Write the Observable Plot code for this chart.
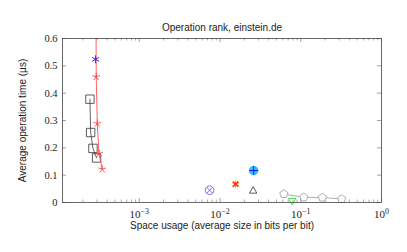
<!DOCTYPE html>
<html>
<head>
<meta charset="utf-8">
<script src="https://cdn.jsdelivr.net/npm/d3@7"></script>
<script src="https://cdn.jsdelivr.net/npm/@observablehq/plot@0.6"></script>
<style>
  html, body { margin: 0; padding: 0; background: #fff; }
  #chart svg { display: block; }
</style>
</head>
<body>
<div id="chart"></div>
<script>
// ---- data ----
const titleText = "Operation rank, einstein.de";
const xLabel = "Space usage (average size in bits per bit)";
const yLabel = "Average operation time (\u00B5s)";

const xMajorTicks = [1e-3, 1e-2, 1e-1, 1];
const xMajorLabels = ["\u22123", "\u22122", "\u22121", "0"];
const yTicks = [0, 0.1, 0.2, 0.3, 0.4, 0.5, 0.6];

// red star series (line)
const redX = [2.90e-4, 2.93e-4, 3.02e-4, 3.17e-4, 3.48e-4];
const redY = [0.80, 0.46, 0.289, 0.179, 0.122];
// blue asterisk
const blueAstX = [2.88e-4];
const blueAstY = [0.524];
// black squares (line)
const sqX = [2.45e-4, 2.50e-4, 2.67e-4, 2.96e-4];
const sqY = [0.378, 0.256, 0.198, 0.163];
// blue otimes
const otX = [7.43e-3];
const otY = [0.045];
// orange/red cluster
const orX = [0.0156];
const orY = [0.067];
// cyan oplus
const opX = [0.0261];
const opY = [0.117];
// black triangle
const triX = [0.0257];
const triY = [0.042];
// gray pentagons (line)
const pentX = [0.0617, 0.109, 0.185, 0.321];
const pentY = [0.031, 0.019, 0.018, 0.013];
// green down triangle
const greenX = [0.0784];
const greenY = [0.007];

// ---- helpers ----
const zip = (xs, ys) => xs.map((x, i) => ({x, y: ys[i]}));
const minorTicks = [];
for (const p of [1e-4, 1e-3, 1e-2, 1e-1]) for (let k = 2; k <= 9; k++) minorTicks.push(k * p);

const R = (size) => Math.sqrt(size / Math.PI);
const symStar5 = {draw(c, size) { const r = R(size); for (let i = 0; i < 5; i++) { const a = -Math.PI / 2 + i * 2 * Math.PI / 5; c.moveTo(0, 0); c.lineTo(r * Math.cos(a), r * Math.sin(a)); } }};
const symAst6 = {draw(c, size) { const r = R(size); for (let i = 0; i < 3; i++) { const a = Math.PI / 2 + i * Math.PI / 3; c.moveTo(-r * Math.cos(a), -r * Math.sin(a)); c.lineTo(r * Math.cos(a), r * Math.sin(a)); } }};
const symSquare = {draw(c, size) { const r = R(size); c.rect(-r, -r, 2 * r, 2 * r); }};
const symCircle = {draw(c, size) { const r = R(size); c.moveTo(r, 0); c.arc(0, 0, r, 0, 2 * Math.PI); c.closePath(); }};
const symTimes = {draw(c, size) { const r = R(size) * 0.707; c.moveTo(-r, -r); c.lineTo(r, r); c.moveTo(-r, r); c.lineTo(r, -r); }};
const symPlus = {draw(c, size) { const r = R(size); c.moveTo(-r, 0); c.lineTo(r, 0); c.moveTo(0, -r); c.lineTo(0, r); }};
const symTriUp = {draw(c, size) { const r = R(size); c.moveTo(0, -r); c.lineTo(r * 0.866, r * 0.5); c.lineTo(-r * 0.866, r * 0.5); c.closePath(); }};
const symTriDown = {draw(c, size) { const r = R(size); c.moveTo(0, r); c.lineTo(r * 0.866, -r * 0.5); c.lineTo(-r * 0.866, -r * 0.5); c.closePath(); }};
const symPent = {draw(c, size) { const r = R(size); for (let i = 0; i < 5; i++) { const a = -Math.PI / 2 + i * 2 * Math.PI / 5; const px = r * Math.cos(a), py = r * Math.sin(a); if (i === 0) c.moveTo(px, py); else c.lineTo(px, py); } c.closePath(); }};

const W = 407, H = 252, mL = 62, mR = 26, mT = 38, mB = 50;
const pw = W - mL - mR, ph = H - mT - mB;
const serif = "'Liberation Serif', 'DejaVu Serif', serif";
const sans = "'Liberation Sans', Arial, sans-serif";
const tickColor = "#888";

const chart = Plot.plot({
  width: W, height: H,
  marginLeft: mL, marginRight: mR, marginTop: mT, marginBottom: mB,
  style: {background: "#fff", fontFamily: sans},
  x: {type: "log", domain: [1.12e-4, 1]},
  y: {domain: [0, 0.6]},
  marks: [
    // inner ticks
    Plot.tickX(xMajorTicks, {x: d => d, insetTop: ph - 4, stroke: tickColor, strokeWidth: 0.8}),
    Plot.tickX(xMajorTicks, {x: d => d, insetBottom: ph - 4, stroke: tickColor, strokeWidth: 0.8}),
    Plot.tickX(minorTicks, {x: d => d, insetTop: ph - 2.5, stroke: tickColor, strokeWidth: 0.7}),
    Plot.tickX(minorTicks, {x: d => d, insetBottom: ph - 2.5, stroke: tickColor, strokeWidth: 0.7}),
    Plot.tickY(yTicks, {y: d => d, insetRight: pw - 4, stroke: tickColor, strokeWidth: 0.8}),
    Plot.tickY(yTicks, {y: d => d, insetLeft: pw - 4, stroke: tickColor, strokeWidth: 0.8}),
    // tick labels
    Plot.axisX(xMajorTicks, {tickSize: 0, tickPadding: 8, tickFormat: d => "10", fontFamily: serif, fontSize: 11, label: null, color: "#222"}),
    Plot.axisY(yTicks, {tickSize: 0, tickPadding: 5, tickFormat: d => d === 0 ? "0" : d3.format(".1f")(d), fontFamily: serif, fontSize: 10.5, label: null, color: "#222"}),
    // axis titles
    Plot.text([xLabel], {frameAnchor: "bottom", dy: 26, fontSize: 10, fill: "#222"}),
    Plot.text([yLabel], {frameAnchor: "left", dx: -40, rotate: -90, textAnchor: "middle", fontSize: 10, fill: "#222"}),
    Plot.text([titleText], {frameAnchor: "top", dy: -15, fontSize: 10, fill: "#222"}),
    // series
    Plot.line(zip(sqX, sqY), {x: "x", y: "y", stroke: "#222", strokeWidth: 0.7}),
    Plot.dot(zip(sqX, sqY), {x: "x", y: "y", symbol: symSquare, r: 4.2, stroke: "#333", strokeWidth: 0.8, fill: "none"}),
    Plot.line(zip(redX, redY), {x: "x", y: "y", stroke: "#ff3b3b", strokeWidth: 0.8, clip: true}),
    Plot.dot(zip(redX, redY), {x: "x", y: "y", symbol: symStar5, r: 4, stroke: "#ff3030", strokeWidth: 0.8, clip: true}),
    Plot.dot(zip(blueAstX, blueAstY), {x: "x", y: "y", symbol: symAst6, r: 4, stroke: "#2a2aff", strokeWidth: 1}),
    Plot.dot(zip(otX, otY), {x: "x", y: "y", symbol: symCircle, r: 4.3, stroke: "#6060ff", strokeWidth: 0.9, fill: "none"}),
    Plot.dot(zip(otX, otY), {x: "x", y: "y", symbol: symTimes, r: 4.3, stroke: "#6060ff", strokeWidth: 0.9}),
    Plot.dot(zip(orX, orY), {x: "x", y: "y", symbol: symAst6, r: 3.8, stroke: "#ffa020", strokeWidth: 1.4}),
    Plot.dot(zip(orX, orY), {x: "x", y: "y", symbol: symTimes, r: 3.8, stroke: "#ff1a1a", strokeWidth: 1.2}),
    Plot.dot(zip(opX, opY), {x: "x", y: "y", symbol: symCircle, r: 4.3, stroke: "#18b4f0", strokeWidth: 0.9, fill: "#30c0f5"}),
    Plot.dot(zip(opX, opY), {x: "x", y: "y", symbol: symPlus, r: 4.3, stroke: "#1a1aff", strokeWidth: 1}),
    Plot.dot(zip(triX, triY), {x: "x", y: "y", symbol: symTriUp, r: 4.3, stroke: "#333", strokeWidth: 0.8, fill: "none"}),
    Plot.line(zip(pentX, pentY), {x: "x", y: "y", stroke: "#777", strokeWidth: 0.6}),
    Plot.dot(zip(pentX, pentY), {x: "x", y: "y", symbol: symPent, r: 4.3, stroke: "#999", strokeWidth: 0.8, fill: "#fff"}),
    Plot.dot(zip(greenX, greenY), {x: "x", y: "y", symbol: symTriDown, r: 4.3, stroke: "#30e030", strokeWidth: 0.9, fill: "none"}),
    Plot.frame({stroke: "#444", strokeWidth: 0.8})
  ]
});

// add superscript exponents to the x tick labels; make sure tick label sizes apply
chart.querySelectorAll('g[aria-label="x-axis tick label"] text').forEach((t, i) => {
  t.style.fontSize = "11px";
  t.style.fontFamily = serif;
  const sup = document.createElementNS("http://www.w3.org/2000/svg", "tspan");
  sup.setAttribute("dy", "-4.5");
  sup.style.fontSize = "8px";
  sup.textContent = xMajorLabels[i];
  t.appendChild(sup);
});
chart.querySelectorAll('g[aria-label="y-axis tick label"] text').forEach(t => {
  t.style.fontSize = "10.5px";
  t.style.fontFamily = serif;
});
document.getElementById("chart").appendChild(chart);
</script>
</body>
</html>
